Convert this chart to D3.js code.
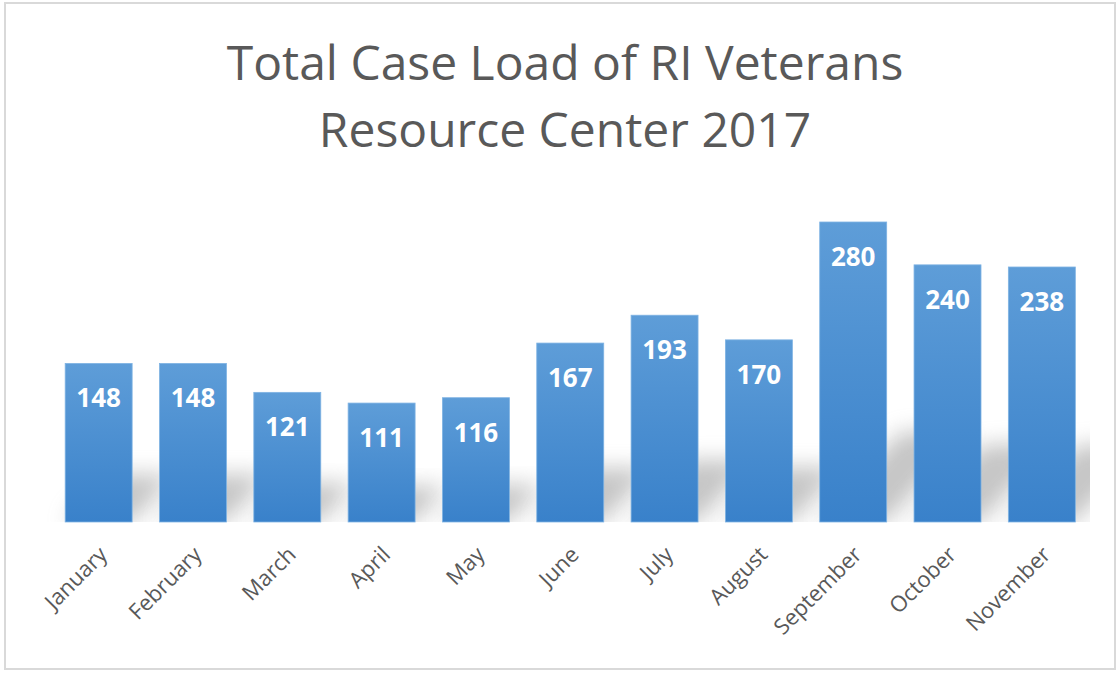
<!DOCTYPE html>
<html>
<head>
<meta charset="utf-8">
<script src="https://cdn.jsdelivr.net/npm/d3@7"></script>
<style>
  html, body { margin: 0; padding: 0; background: #fff; }
  text { font-family: "Open Sans", "Noto Sans", sans-serif; }
</style>
</head>
<body>
<div id="chart"></div>
<script>
  const months = ['January', 'February', 'March', 'April', 'May', 'June',
    'July', 'August', 'September', 'October', 'November'];
  const caseLoad = [148, 148, 121, 111, 116, 167, 193, 170, 280, 240, 238];
  const titleLines = ['Total Case Load of RI Veterans', 'Resource Center 2017'];

  const width = 1119, height = 674;
  const baseY = 522;

  const svg = d3.select('#chart').append('svg')
    .attr('width', width)
    .attr('height', height);

  const defs = svg.append('defs');
  const grad = defs.append('linearGradient')
    .attr('id', 'barGrad').attr('x1', 0).attr('y1', 0).attr('x2', 0).attr('y2', 1);
  grad.append('stop').attr('offset', '0%').attr('stop-color', '#5e9dd8');
  grad.append('stop').attr('offset', '100%').attr('stop-color', '#3981ca');

  defs.append('filter').attr('id', 'blur')
    .attr('x', '-50%').attr('y', '-50%').attr('width', '200%').attr('height', '200%')
    .append('feGaussianBlur').attr('stdDeviation', 11);

  defs.append('clipPath').attr('id', 'plotClip')
    .append('rect').attr('x', 40).attr('y', 180).attr('width', 1050).attr('height', baseY - 180);

  // frame
  svg.append('rect')
    .attr('x', 5).attr('y', 3).attr('width', 1110).attr('height', 666)
    .attr('fill', '#fff').attr('stroke', '#d9d9d9').attr('stroke-width', 2);

  // title
  svg.append('g').selectAll('text')
    .data(titleLines)
    .join('text')
    .attr('x', 565)
    .attr('y', (d, i) => 80 + i * 67)
    .attr('text-anchor', 'middle')
    .attr('fill', '#595959')
    .style('font-size', '48px')
    .text(d => d);

  const x = d3.scaleBand()
    .domain(months)
    .range([51.5, 1089])
    .paddingInner(0.29)
    .paddingOuter(0.145);

  const y = d3.scaleLinear()
    .domain([0, 280])
    .range([baseY, 222]);

  // perspective shadows
  const shadowK = 0.3;
  svg.append('g')
    .attr('clip-path', 'url(#plotClip)')
    .selectAll('path')
    .data(caseLoad)
    .join('path')
    .attr('d', (d, i) => {
      const x0 = x(months[i]), x1 = x0 + x.bandwidth();
      const h = (baseY - y(d)) * shadowK;
      const s = h * 0.9;
      return `M${x0},${baseY}L${x1},${baseY}L${x1 + s},${baseY - h}L${x0 + s},${baseY - h}Z`;
    })
    .attr('fill', '#8c8c8c')
    .attr('opacity', 0.5)
    .attr('filter', 'url(#blur)');

  // bars
  svg.append('g')
    .selectAll('rect')
    .data(caseLoad)
    .join('rect')
    .attr('x', (d, i) => x(months[i]))
    .attr('y', d => y(d))
    .attr('width', x.bandwidth())
    .attr('height', d => baseY - y(d))
    .attr('fill', 'url(#barGrad)')
    .attr('stroke', '#7fb3e3')
    .attr('stroke-width', 0.8);

  // value labels
  svg.append('g')
    .selectAll('text')
    .data(caseLoad)
    .join('text')
    .attr('x', (d, i) => x(months[i]) + x.bandwidth() / 2)
    .attr('y', d => y(d) + 44)
    .attr('text-anchor', 'middle')
    .attr('fill', '#fff')
    .style('font-size', '26px')
    .style('font-weight', 'bold')
    .text(d => d);

  // x axis labels
  const xAxis = d3.axisBottom(x).tickSize(0).tickPadding(0);
  const gx = svg.append('g')
    .attr('transform', `translate(0,${baseY})`)
    .call(xAxis);
  gx.select('.domain').remove();
  gx.selectAll('.tick text')
    .attr('fill', '#595959')
    .style('font-size', '22px')
    .style('font-family', '"Open Sans", "Noto Sans", sans-serif')
    .attr('text-anchor', 'end')
    .attr('dy', 0)
    .attr('y', 0)
    .attr('transform', 'translate(10,34) rotate(-45)');
</script>
</body>
</html>
